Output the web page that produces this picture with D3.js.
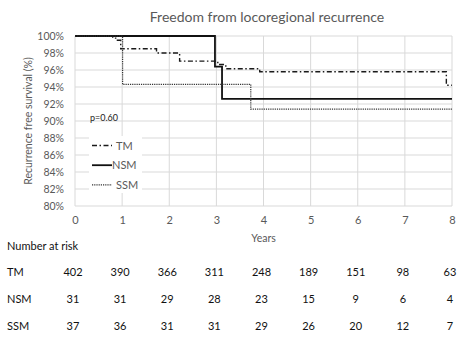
<!DOCTYPE html>
<html>
<head>
<meta charset="utf-8">
<script src="https://cdn.jsdelivr.net/npm/d3@7"></script>
<style>
  html, body { margin: 0; padding: 0; background: #fff; }
  svg { display: block; }
  text { font-family: "Lato", "Open Sans", sans-serif; }
</style>
</head>
<body>
<svg id="chart" width="473" height="339"></svg>
<script>
// Kaplan-Meier step data (years, survival %)
const tmTimes  = [0, 0.8, 0.9, 0.97, 1.73, 2.22, 3.03, 3.2, 3.92, 7.88];
const tmValues = [100, 99.75, 99.5, 98.5, 98.0, 97.05, 96.65, 96.15, 95.8, 94.2];
const nsmTimes  = [0, 2.97, 3.12];
const nsmValues = [100, 96.4, 92.6];
const ssmTimes  = [0, 1.01, 3.73];
const ssmValues = [100, 94.3, 91.4];
const followUpEnd = 8;

// axis ticks
const xTicks = [0, 1, 2, 3, 4, 5, 6, 7, 8];
const yTicks = [80, 82, 84, 86, 88, 90, 92, 94, 96, 98, 100];

// number-at-risk table
const riskGroups = ["TM", "NSM", "SSM"];
const riskTM  = [402, 390, 366, 311, 248, 189, 151, 98, 63];
const riskNSM = [31, 31, 29, 28, 23, 15, 9, 6, 4];
const riskSSM = [37, 36, 31, 31, 29, 26, 20, 12, 7];

const svg = d3.select("#chart");
const plotLeft = 75, plotRight = 452, plotTop = 36, plotBottom = 206;

const x = d3.scaleLinear().domain([0, 8]).range([plotLeft, plotRight]);
const y = d3.scaleLinear().domain([80, 100]).range([plotBottom, plotTop]);

const grey = "#595959";
const gridColor = "#d9d9d9";

// title
svg.append("text")
  .attr("x", 267).attr("y", 22)
  .attr("text-anchor", "middle")
  .attr("font-size", 14)
  .attr("fill", grey)
  .text("Freedom from locoregional recurrence");

// gridlines
const grid = svg.append("g");
grid.selectAll("line.h").data(yTicks).join("line")
  .attr("x1", plotLeft).attr("x2", plotRight)
  .attr("y1", d => y(d)).attr("y2", d => y(d))
  .attr("stroke", gridColor).attr("stroke-width", 1);
grid.selectAll("line.v").data(xTicks).join("line")
  .attr("x1", d => x(d)).attr("x2", d => x(d))
  .attr("y1", plotTop).attr("y2", plotBottom)
  .attr("stroke", gridColor).attr("stroke-width", 1);

// y axis
const yAxis = svg.append("g")
  .attr("transform", `translate(${plotLeft},0)`)
  .call(d3.axisLeft(y).tickValues(yTicks).tickSize(0).tickPadding(11).tickFormat(d => d + "%"));
yAxis.select(".domain").remove();
yAxis.selectAll("text").attr("font-size", 10.5).attr("fill", grey).attr("font-family", "Lato, sans-serif");

// x axis
const xAxis = svg.append("g")
  .attr("transform", `translate(0,${plotBottom})`)
  .call(d3.axisBottom(x).tickValues(xTicks).tickSize(0).tickPadding(10).tickFormat(d3.format("d")));
xAxis.select(".domain").remove();
xAxis.selectAll("text").attr("font-size", 11).attr("fill", grey).attr("font-family", "Lato, sans-serif");

// axis titles
svg.append("text")
  .attr("x", x(4)).attr("y", 242)
  .attr("text-anchor", "middle")
  .attr("font-size", 10.5).attr("fill", grey)
  .text("Years");
svg.append("text")
  .attr("transform", `translate(32,${(plotTop + plotBottom) / 2}) rotate(-90)`)
  .attr("text-anchor", "middle")
  .attr("font-size", 10.5).attr("fill", grey)
  .text("Recurrence free survival (%)");

// survival curves
const stepLine = d3.line()
  .x(d => x(d[0])).y(d => y(d[1]))
  .curve(d3.curveStepAfter);
function points(times, values) {
  const pts = times.map((t, i) => [t, values[i]]);
  pts.push([followUpEnd, values[values.length - 1]]);
  return pts;
}
const series = [
  { name: "TM",  pts: points(tmTimes, tmValues),  color: "#1a1a1a", width: 1.4, dash: "5,2.5,1.5,2.5" },
  { name: "NSM", pts: points(nsmTimes, nsmValues), color: "#111111", width: 1.8, dash: null },
  { name: "SSM", pts: points(ssmTimes, ssmValues), color: "#333333", width: 1.2, dash: "1.2,1" }
];
svg.append("g").selectAll("path").data(series).join("path")
  .attr("d", d => stepLine(d.pts))
  .attr("fill", "none")
  .attr("stroke", d => d.color)
  .attr("stroke-width", d => d.width)
  .attr("stroke-dasharray", d => d.dash);

// p-value
svg.append("text")
  .attr("x", 90).attr("y", 121)
  .attr("font-size", 9).attr("fill", "#222")
  .text("p=0.60");

// legend
const legend = svg.append("g");
legend.append("rect")
  .attr("x", 89).attr("y", 136).attr("width", 53).attr("height", 57)
  .attr("fill", "#fff");
const legItems = legend.selectAll("g").data(series).join("g")
  .attr("transform", (d, i) => `translate(0,${145.5 + i * 19.7})`);
legItems.append("line")
  .attr("x1", 92).attr("x2", 112).attr("y1", 0).attr("y2", 0)
  .attr("stroke", d => d.color)
  .attr("stroke-width", d => d.width)
  .attr("stroke-dasharray", d => d.dash);
legItems.append("text")
  .attr("x", d => d.name === "NSM" ? 112 : 116).attr("y", 4)
  .attr("font-size", 11).attr("fill", grey)
  .text(d => d.name);

// number at risk
svg.append("text")
  .attr("x", 7).attr("y", 250)
  .attr("font-size", 11).attr("fill", "#111")
  .text("Number at risk");
const riskRows = [riskTM, riskNSM, riskSSM];
const riskY = [276, 303, 330];
riskGroups.forEach((g, r) => {
  svg.append("text")
    .attr("x", 7).attr("y", riskY[r])
    .attr("font-size", 11).attr("fill", "#111")
    .text(g);
  svg.append("g").selectAll("text").data(riskRows[r]).join("text")
    .attr("x", (d, i) => x(xTicks[i]) - 2)
    .attr("y", riskY[r])
    .attr("text-anchor", "middle")
    .attr("font-size", 11).attr("fill", "#111")
    .text(d => d);
});
</script>
</body>
</html>
